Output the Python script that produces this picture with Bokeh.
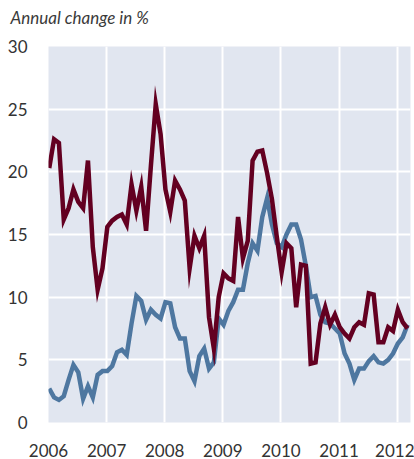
from bokeh.plotting import figure
from bokeh.models import Range1d, FixedTicker, Title
from bokeh.embed import file_html
from bokeh.resources import INLINE

# Monthly data, Jan 2006 .. Mar 2012 (annual change in %)
start_year = 2006
months = list(range(75))  # month index from Jan 2006

series_red = [20.3, 22.6, 22.3, 16.2, 17.1, 18.6, 17.6, 17.1, 20.9, 14.0, 10.6, 12.3,
              15.6, 16.1, 16.4, 16.6, 15.8, 19.0, 16.9, 18.8, 15.3, 20.5, 25.4, 23.0,
              18.6, 16.8, 19.3, 18.6, 17.7, 12.3, 14.9, 13.9, 14.9, 8.4, 5.9, 10.0,
              11.9, 11.5, 11.3, 16.4, 13.1, 14.5, 20.9, 21.6, 21.7, 19.9, 17.8, 14.8,
              12.0, 14.3, 13.9, 9.2, 12.6, 12.5, 4.7, 4.8, 7.9, 9.2, 7.8, 8.6,
              7.6, 7.1, 6.7, 7.6, 8.0, 7.8, 10.3, 10.2, 6.4, 6.4, 7.6, 7.3,
              9.0, 8.0, 7.5]

series_blue = [2.7, 2.0, 1.8, 2.1, 3.4, 4.6, 4.0, 1.9, 2.9, 2.0, 3.8, 4.1,
               4.1, 4.5, 5.6, 5.8, 5.4, 7.9, 10.1, 9.7, 8.2, 9.0, 8.6, 8.3,
               9.6, 9.5, 7.6, 6.7, 6.7, 4.1, 3.3, 5.3, 5.9, 4.3, 4.8, 8.3,
               7.8, 8.9, 9.6, 10.6, 10.6, 12.7, 14.3, 13.7, 16.4, 17.9, 15.8, 14.3,
               14.0, 15.0, 15.8, 15.8, 14.6, 12.5, 10.0, 10.1, 8.6, 8.0, 7.9, 7.5,
               7.1, 5.5, 4.7, 3.4, 4.3, 4.3, 4.9, 5.3, 4.8, 4.7, 5.0, 5.5,
               6.3, 6.8, 7.8]

year_ticks = [2006, 2007, 2008, 2009, 2010, 2011, 2012]
y_ticks = [0, 5, 10, 15, 20, 25, 30]
title_text = "Annual change in %"

x = [start_year + (m + 0.15) / 12 for m in months]

FONT = "Lato"
TXT = "#333333"

p = figure(width=414, height=459,
           x_range=Range1d(2006.0, 2012.23), y_range=Range1d(0, 30),
           output_backend="svg", toolbar_location=None,
           min_border_left=48, min_border_right=4,
           min_border_top=46, min_border_bottom=36,
           background_fill_color="#e1e6f0", border_fill_color="white",
           outline_line_color=None)

# spacer between frame and caption (closest to the frame)
p.add_layout(Title(text=" ", text_font_size="2px", standoff=15), "above")
# unit caption, left of the frame
p.add_layout(Title(text=title_text, text_font=FONT, text_font_style="italic",
                   text_font_size="17px", text_color="#3a3a3a",
                   align="left", offset=-38, standoff=0), "above")

p.xaxis.ticker = FixedTicker(ticks=year_ticks)
p.yaxis.ticker = FixedTicker(ticks=y_ticks)
for ax in (p.xaxis[0], p.yaxis[0]):
    ax.axis_line_color = None
    ax.major_tick_line_color = None
    ax.minor_tick_line_color = None
    ax.major_label_text_font = FONT
    ax.major_label_text_font_size = "17px"
    ax.major_label_text_color = TXT
p.xaxis.major_label_standoff = 15
p.yaxis.major_label_standoff = 15

for g in (p.xgrid[0], p.ygrid[0]):
    g.grid_line_color = "white"
    g.grid_line_width = 2
    g.ticker = FixedTicker(ticks=year_ticks if g is p.xgrid[0] else y_ticks)

p.line(x, series_blue, line_color="#4e77a0", line_width=4.5, line_join="miter")
p.line(x, series_red, line_color="#630021", line_width=4.5, line_join="miter")

open("out.html", "w").write(file_html(p, INLINE))
